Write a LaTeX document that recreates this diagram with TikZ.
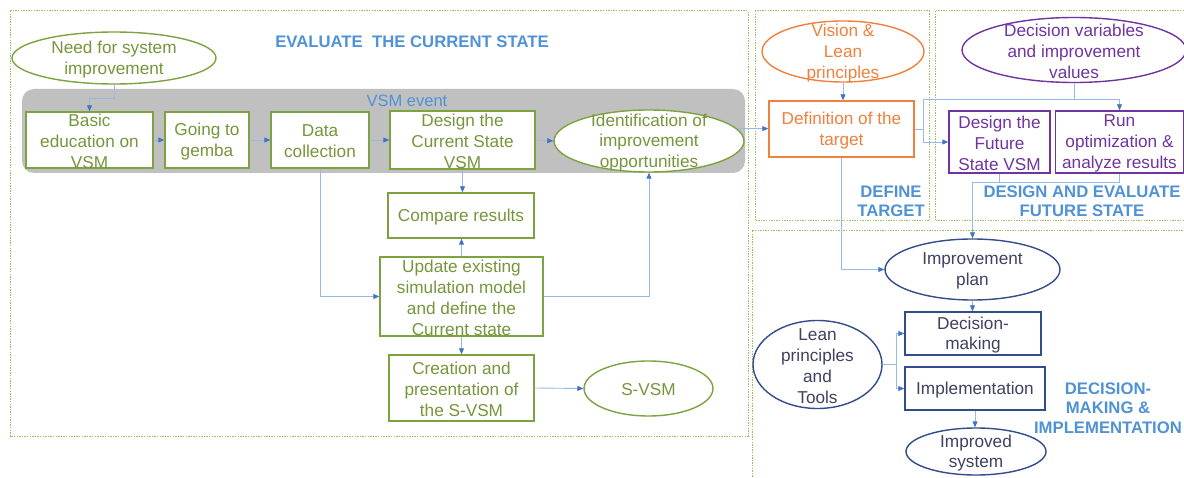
\documentclass[tikz,border=0pt]{standalone}
\usepackage{fontspec}
\setmainfont{Liberation Sans}
\usetikzlibrary{shapes.geometric,arrows.meta}
\definecolor{framegreen}{RGB}{155,190,95}
\definecolor{gstroke}{RGB}{125,162,64}
\definecolor{gtext}{RGB}{118,150,60}
\definecolor{ocol}{RGB}{240,128,62}
\definecolor{pcol}{RGB}{112,52,160}
\definecolor{nstroke}{RGB}{50,76,140}
\definecolor{ntext}{RGB}{62,66,96}
\definecolor{headblue}{RGB}{80,146,214}
\definecolor{linkblue}{RGB}{150,186,228}
\definecolor{tipblue}{RGB}{68,114,196}
\definecolor{bandgray}{RGB}{192,192,192}
\begin{document}
\begin{tikzpicture}[x=1pt,y=-1pt,
  frame/.style={draw=framegreen, line width=1pt, dash pattern=on 1.4pt off 1.2pt},
  shp/.style={draw, fill=white, inner sep=0pt, line width=1.4pt},
  box/.style={shp, rectangle},
  oval/.style={shp, ellipse},
  txt/.style={font=\fontsize{17.2}{20.8}\selectfont, align=center, yshift=-1.5pt},
  gl/.style={label={[txt,text=gtext]center:{#1}}},
  ol/.style={label={[txt,text=ocol]center:{#1}}},
  pl/.style={label={[txt,text=pcol]center:{#1}}},
  nl/.style={label={[txt,text=ntext]center:{#1}}},
  head/.style={font=\fontsize{16.7}{19.5}\selectfont\bfseries, text=headblue, align=center},
  line/.style={draw=linkblue, line width=0.9pt},
  conn/.style={line, -{Triangle[length=6pt,width=5pt,color=tipblue]}}
]
\useasboundingbox (0,0) rectangle (1184,478);
\fill[white] (0,0) rectangle (1184,478);
% frames
\draw[frame] (10,11) rectangle (748,436);
\draw[frame] (755,11) rectangle (929,221);
\draw[frame] (935,11) rectangle (1194,221);
\draw[frame] (752,231) rectangle (1194,488);
% band
\fill[bandgray, rounded corners=12pt] (22,89) rectangle (745,173);
\node[font=\fontsize{16.5}{19}\selectfont, text=headblue] (vsmevent) at (407,101) {VSM event};
% headings
\node[head] (hEval) at (412,42) {EVALUATE\ \ THE CURRENT STATE};
\node[head] (hDef) at (891,201.5) {DEFINE\\TARGET};
\node[head] (hDes) at (1082,201.5) {DESIGN AND EVALUATE\\FUTURE STATE};
\node[head] (hDec) at (1108,408) {DECISION-\\MAKING \&\\IMPLEMENTATION};
% evaluate nodes
\node[oval, draw=gstroke, minimum width=204, minimum height=52, gl={Need for system\\improvement}] (need) at (114,58) {};
\node[box, draw=gstroke, minimum width=127, minimum height=56, gl={Basic\\education on\\VSM}] (basic) at (89.5,140) {};
\node[box, draw=gstroke, minimum width=84, minimum height=56, gl={Going to\\gemba}] (gemba) at (207,140) {};
\node[box, draw=gstroke, minimum width=98, minimum height=56, gl={Data\\collection}] (data) at (320,140) {};
\node[box, draw=gstroke, minimum width=145, minimum height=58, gl={Design the\\Current State\\VSM}] (dcs) at (462.5,140) {};
\node[oval, draw=gstroke, minimum width=190, minimum height=62, gl={Identification of\\improvement\\opportunities}] (ident) at (649,141) {};
\node[box, draw=gstroke, minimum width=146, minimum height=45, gl={Compare results}] (comp) at (461,215.5) {};
\node[box, draw=gstroke, minimum width=163, minimum height=79, gl={Update existing\\simulation model\\and define the\\Current state}] (upd) at (461.5,296.5) {};
\node[box, draw=gstroke, minimum width=145, minimum height=66, gl={Creation and\\presentation of\\the S-VSM}] (crea) at (461.5,388) {};
\node[oval, draw=gstroke, minimum width=129, minimum height=55, gl={S-VSM}] (svsm) at (648.5,388.5) {};
% define target
\node[oval, draw=ocol, minimum width=162, minimum height=61, ol={Vision \&\\Lean\\principles}] (vision) at (843,51.5) {};
\node[box, draw=ocol, minimum width=145, minimum height=56, ol={Definition of the\\target}] (def) at (841.5,129) {};
% design future
\node[oval, draw=pcol, minimum width=224, minimum height=65, pl={Decision variables\\and improvement\\values}] (dv) at (1074,50) {};
\node[box, draw=pcol, minimum width=101, minimum height=62, pl={Design the\\Future\\State VSM}] (fut) at (999.5,142) {};
\node[box, draw=pcol, minimum width=128, minimum height=62, pl={Run\\optimization \&\\analyze results}] (run) at (1119.5,142) {};
% decision-making
\node[oval, draw=nstroke, minimum width=175, minimum height=61, nl={Improvement\\plan}] (plan) at (972.5,269.5) {};
\node[box, draw=nstroke, minimum width=136, minimum height=43, nl={Decision-\\making}] (dec) at (973,333.5) {};
\node[box, draw=nstroke, minimum width=140, minimum height=43, nl={Implementation}] (impl) at (975,388.5) {};
\node[oval, draw=nstroke, minimum width=129, minimum height=88, nl={Lean\\principles\\and\\Tools}] (lean) at (817.5,364.5) {};
\node[oval, draw=nstroke, minimum width=140, minimum height=47, nl={Improved\\system}] (imp) at (976,451.5) {};
% connectors
\draw[conn] (need.south) -- ++(0,14) -| (basic.north);
\draw[conn] (basic.east) -- (gemba.west);
\draw[conn] (gemba.east) -- (data.west);
\draw[conn] (data.east) -- (dcs.west);
\draw[conn] (dcs.east) -- (ident.west);
\draw[conn] (ident.8) -- (ident.8 -| def.west);
\draw[conn] (dcs.south) -- (dcs.south |- comp.north);
\draw[conn] (upd.north) -- (upd.north |- comp.south);
\draw[conn] (data.south) |- (upd.west);
\draw[conn] (upd.east) -| (ident.south);
\draw[conn] (upd.south) -- (upd.south |- crea.north);
\draw[conn] (crea.east) -- (svsm.west);
\draw[conn] (vision.south) -- (vision.south |- def.north);
\coordinate (j1) at (923,99);
\draw[conn] (def.east) -| (j1) -| (run.north);
\draw[conn] (def.east) -- (def.east -| j1) |- (fut.west);
\draw[line] (dv.south) -- (dv.south |- j1);
\coordinate (j2) at (972.5,182);
\draw[line] (fut.south) |- (j2);
\draw[conn] (run.south) |- (j2) -- (plan.north);
\draw[conn] (def.south) |- (plan.west);
\draw[conn] (plan.south) -- (plan.south |- dec.north);
\coordinate (j3) at (896,364.5);
\draw[conn] (lean.east) -- (j3) |- (dec.west);
\draw[conn] (j3) |- (impl.west);
\draw[conn] (impl.south) -- (impl.south |- imp.north);
\end{tikzpicture}
\end{document}
